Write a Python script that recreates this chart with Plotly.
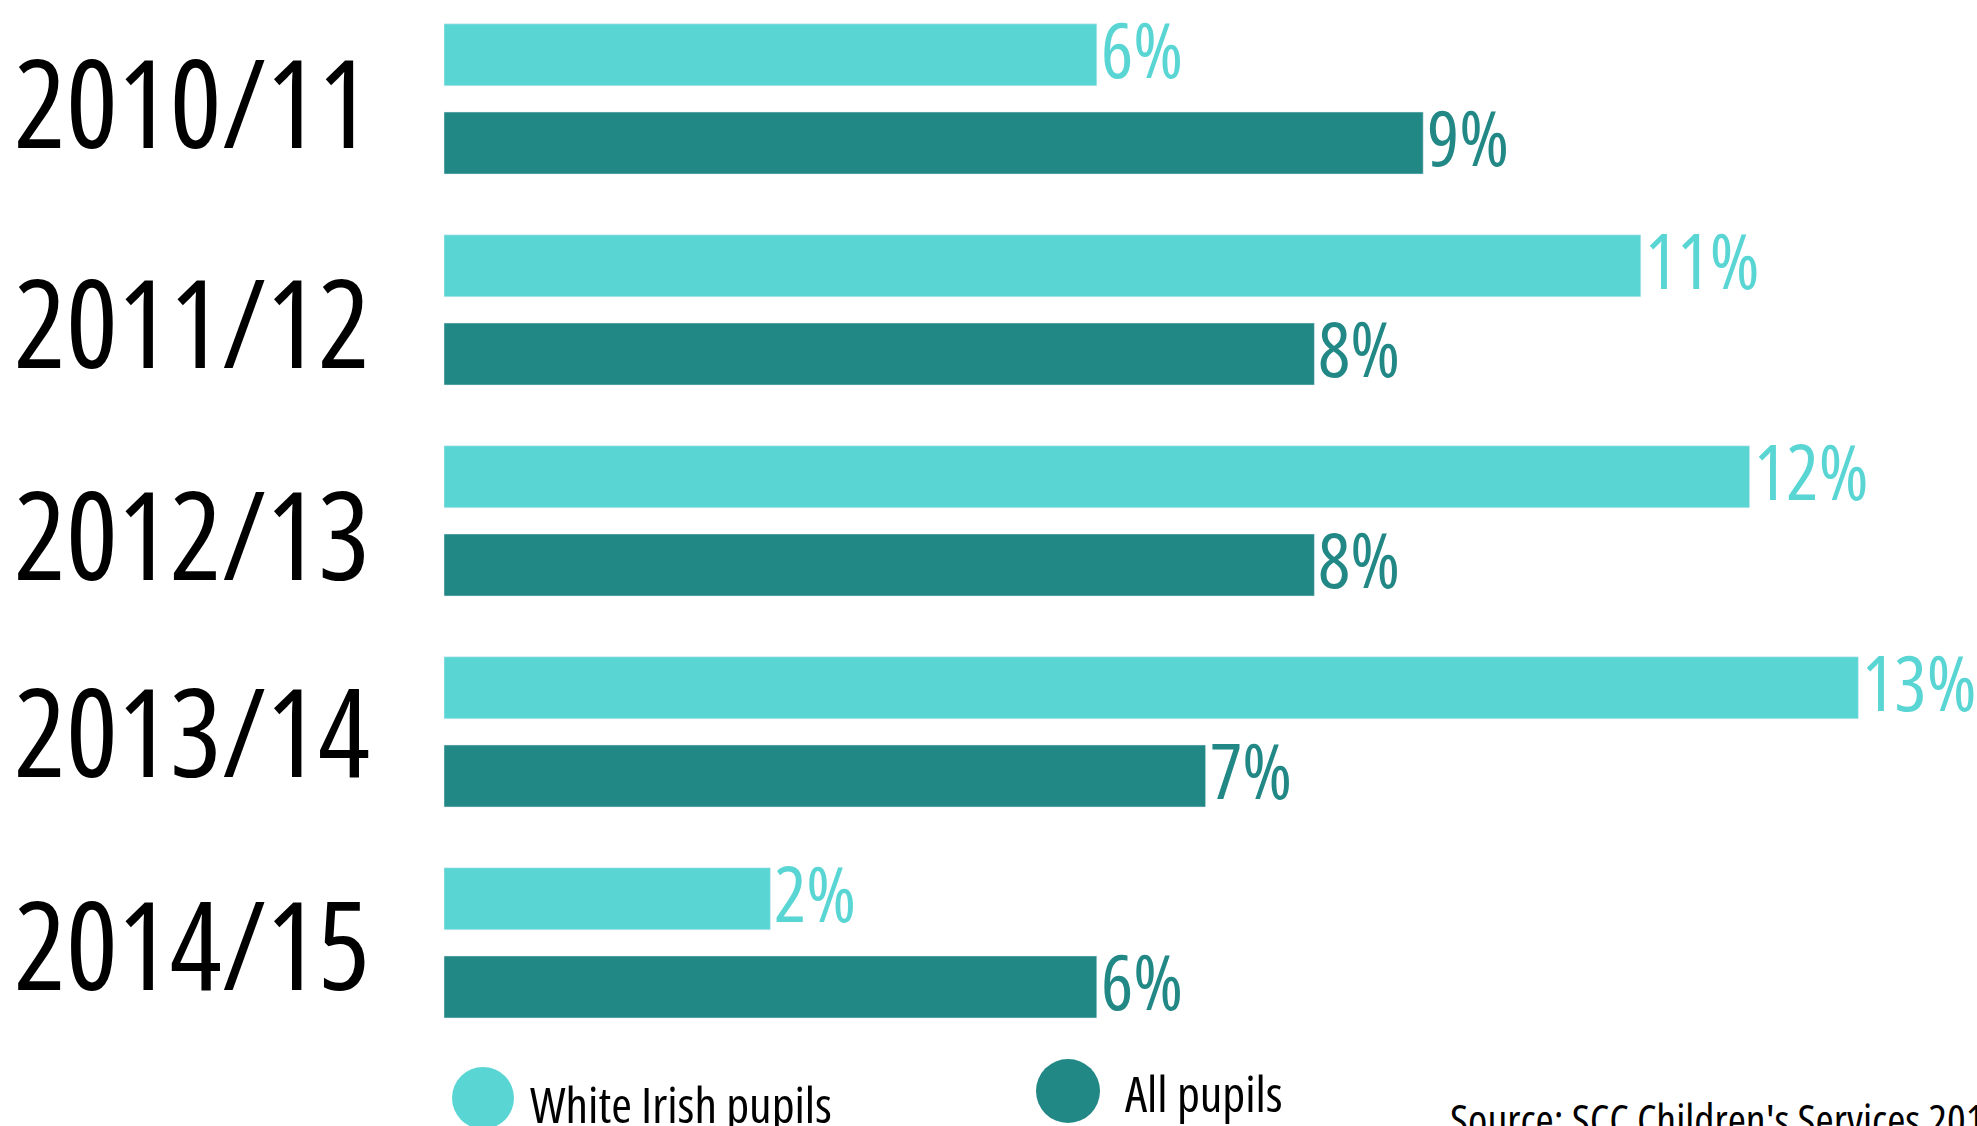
import plotly.graph_objects as go

# ---- data ----
years = ["2010/11", "2011/12", "2012/13", "2013/14", "2014/15"]
white_irish_len = [6, 11, 12, 13, 3]          # bar lengths as drawn (%)
white_irish_lbl = ["6%", "11%", "12%", "13%", "2%"]
all_pupils_len = [9, 8, 8, 7, 6]
all_pupils_lbl = ["9%", "8%", "8%", "7%", "6%"]
series_names = ["White Irish pupils", "All pupils"]
source_text = "Source: SCC Children's Services 2015"

# ---- style / layout ----
LIGHT = "#59D5D4"
DARK = "#228886"
FONT = "Open Sans, Roboto, DejaVu Sans Condensed, sans-serif"
year_label_dy = [-2, -11, -12, 2, 0]   # small per-label vertical nudges (px)


def narrow(s):
    return f'<span style="font-stretch:75%">{s}</span>'


W, H = 1977, 1126
ML, MR, MT, MB = 444, 0, 0, 77
PW, PH = W - ML - MR, H - MT - MB
HALF_OFF = 44   # pixel offset of each bar from the category centre


def px(x):
    return (x - ML) / PW


def py(y):
    return (H - MB - y) / PH


fig = go.Figure()
fig.add_trace(go.Bar(
    y=years, x=white_irish_len, orientation="h", name=series_names[0],
    marker_color=LIGHT, showlegend=False, hoverinfo="skip",
))
fig.add_trace(go.Bar(
    y=years, x=all_pupils_len, orientation="h", name=series_names[1],
    marker_color=DARK, showlegend=False, hoverinfo="skip",
))

annotations = []
# value labels, anchored at the bar ends in data coordinates
for vals, lbls, col, dy in [
    (white_irish_len, white_irish_lbl, LIGHT, HALF_OFF + 6),
    (all_pupils_len, all_pupils_lbl, DARK, -HALF_OFF + 6),
]:
    for yr, v, t in zip(years, vals, lbls):
        annotations.append(dict(
            x=v, xref="x", y=yr, yref="y", xshift=2, yshift=dy,
            text=narrow(t), showarrow=False, xanchor="left", yanchor="middle",
            font=dict(size=76, color=col, family=FONT),
        ))

# category labels
for yr, dy in zip(years, year_label_dy):
    annotations.append(dict(
        x=px(192), xref="paper", y=yr, yref="y", yshift=dy,
        text=narrow(yr), showarrow=False, xanchor="center", yanchor="middle",
        font=dict(size=122, color="black", family=FONT),
    ))

# legend
shapes = []
legend_items = [
    (series_names[0], LIGHT, 483, 1098, 31, 528, 1104),
    (series_names[1], DARK, 1068, 1091, 32, 1123, 1093),
]
for name, col, cx, cy, r, tx, ty in legend_items:
    shapes.append(dict(
        type="circle", xref="paper", yref="paper",
        xsizemode="pixel", ysizemode="pixel",
        xanchor=px(cx), yanchor=py(cy),
        x0=-r, x1=r, y0=-r, y1=r,
        fillcolor=col, line=dict(width=0),
    ))
    annotations.append(dict(
        x=px(tx), xref="paper", y=py(ty), yref="paper",
        text=narrow(name), showarrow=False, xanchor="left", yanchor="middle",
        font=dict(size=50, color="black", family=FONT),
    ))

annotations.append(dict(
    x=px(1448), xref="paper", y=py(1119), yref="paper",
    text=narrow(source_text), showarrow=False, xanchor="left", yanchor="middle",
    font=dict(size=44, color="black", family=FONT),
))

fig.update_layout(
    width=W, height=H,
    margin=dict(l=ML, r=MR, t=MT, b=MB, pad=0),
    paper_bgcolor="white", plot_bgcolor="white",
    barmode="group", bargap=0.164, bargroupgap=0.297,
    xaxis=dict(range=[0, PW / 108.8], visible=False),
    yaxis=dict(type="category", range=[4.503, -0.469], visible=False),
    annotations=annotations, shapes=shapes,
    showlegend=False,
    font=dict(family=FONT),
)

fig.write_html(
    "out.html",
    config={"displayModeBar": False},
    post_script="document.body.style.margin='0';document.body.style.overflow='hidden';",
)
